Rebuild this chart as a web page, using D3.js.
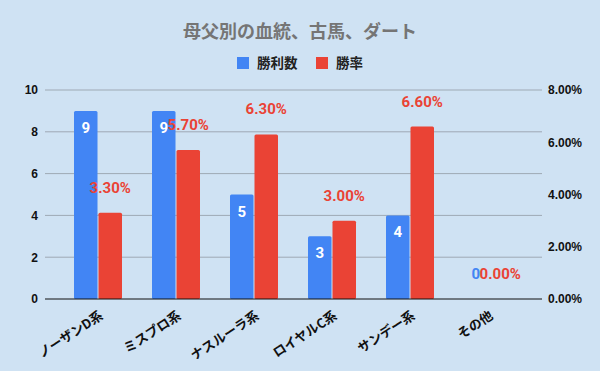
<!DOCTYPE html>
<html>
<head>
<meta charset="utf-8">
<script src="https://cdn.jsdelivr.net/npm/d3@7"></script>
<style>
  body { margin: 0; background: #cfe2f3; }
  svg { display: block; font-family: Roboto, Arial, "Noto Sans CJK JP", sans-serif; }
</style>
</head>
<body>
<svg width="600" height="371"></svg>
<script>
var categories = ['ノーザンD系', 'ミスプロ系', 'ナスルーラ系', 'ロイヤルC系', 'サンデー系', 'その他'];
var wins = [9, 9, 5, 3, 4, 0];
var winRate = [3.30, 5.70, 6.30, 3.00, 6.60, 0.00];
var leftTicks = [0, 2, 4, 6, 8, 10];
var rightTicks = [0, 2, 4, 6, 8];
var seriesNames = ['勝利数', '勝率'];

var svg = d3.select('svg');
var width = 600, height = 371;
var blue = '#4285f4', red = '#ea4335';
var jp = '"Noto Sans CJK JP", sans-serif';

svg.append('rect').attr('width', width).attr('height', height).attr('fill', '#cfe2f3');

// plot area (don't name it "top", that's window.top)
var plotLeft = 45, plotRight = 542, plotTop = 90, plotBottom = 299;

var x = d3.scaleBand().domain(categories).range([59, 527]);
var inner = d3.scaleBand().domain([0, 1]).range([x.bandwidth() / 2 - 24, x.bandwidth() / 2 + 24]).paddingInner(0.04);
var yL = d3.scaleLinear().domain([0, 10]).range([plotBottom, plotTop]);
var yR = d3.scaleLinear().domain([0, 8]).range([plotBottom, plotTop]);

// gridlines
svg.append('g').selectAll('line').data(leftTicks.slice(1)).enter().append('line')
  .attr('x1', plotLeft).attr('x2', plotRight)
  .attr('y1', function(d) { return yL(d); }).attr('y2', function(d) { return yL(d); })
  .attr('stroke', '#9ea9b4').attr('stroke-width', 1);

// left axis
var yAxisL = d3.axisLeft(yL).tickValues(leftTicks).tickSize(0).tickPadding(0);
var gl = svg.append('g').attr('transform', 'translate(38,0)').call(yAxisL);
gl.select('.domain').remove();
gl.selectAll('text').attr('font-size', 12).attr('font-weight', 'bold').attr('fill', '#111');

// right axis
var yAxisR = d3.axisRight(yR).tickValues(rightTicks).tickSize(0).tickPadding(0)
  .tickFormat(function(d) { return d.toFixed(2) + '%'; });
var gr = svg.append('g').attr('transform', 'translate(548,0)').call(yAxisR);
gr.select('.domain').remove();
gr.selectAll('text').attr('font-size', 12).attr('font-weight', 'bold').attr('fill', '#111');

// bars
var groups = svg.append('g').selectAll('g').data(categories).enter().append('g')
  .attr('transform', function(d) { return 'translate(' + x(d) + ',0)'; });

groups.append('rect')
  .attr('x', inner(0)).attr('width', inner.bandwidth())
  .attr('y', function(d, i) { return yL(wins[i]); })
  .attr('height', function(d, i) { return plotBottom - yL(wins[i]); })
  .attr('rx', 1.5)
  .attr('fill', blue);

groups.append('rect')
  .attr('x', inner(1)).attr('width', inner.bandwidth())
  .attr('y', function(d, i) { return yR(winRate[i]); })
  .attr('height', function(d, i) { return plotBottom - yR(winRate[i]); })
  .attr('rx', 1.5)
  .attr('fill', red);

// zero line
svg.append('line').attr('x1', plotLeft).attr('x2', plotRight).attr('y1', plotBottom).attr('y2', plotBottom)
  .attr('stroke', '#111').attr('stroke-width', 1);

// value labels
groups.append('text')
  .attr('x', inner(0) + inner.bandwidth() / 2)
  .attr('y', function(d, i) { return wins[i] > 0 ? yL(wins[i]) + 22 : plotBottom - 20; })
  .attr('text-anchor', 'middle')
  .attr('font-size', 15).attr('font-weight', 'bold')
  .attr('fill', function(d, i) { return wins[i] > 0 ? '#fff' : blue; })
  .text(function(d, i) { return wins[i]; });

groups.append('text')
  .attr('x', inner(1) + inner.bandwidth() / 2)
  .attr('y', function(d, i) { return yR(winRate[i]) - 20; })
  .attr('text-anchor', 'middle')
  .attr('font-size', 15).attr('font-weight', 'bold')
  .attr('fill', red)
  .text(function(d, i) { return winRate[i].toFixed(2) + '%'; });

// category labels
groups.append('text')
  .attr('transform', 'translate(' + (x.bandwidth() / 2 + 6) + ',318) rotate(-33)')
  .attr('text-anchor', 'end')
  .attr('font-family', jp)
  .attr('font-size', 13).attr('font-weight', 'bold')
  .attr('fill', '#111')
  .text(function(d) { return d; });

// title
svg.append('text')
  .attr('x', 300).attr('y', 38)
  .attr('text-anchor', 'middle')
  .attr('font-family', jp)
  .attr('font-size', 18).attr('font-weight', 'bold')
  .attr('fill', '#757575')
  .text('母父別の血統、古馬、ダート');

// legend
var legendItems = [
  { name: seriesNames[0], color: blue, x: 237 },
  { name: seriesNames[1], color: red, x: 316 }
];
var lg = svg.append('g').selectAll('g').data(legendItems).enter().append('g')
  .attr('transform', function(d) { return 'translate(' + d.x + ',57)'; });
lg.append('rect').attr('width', 12).attr('height', 12).attr('fill', function(d) { return d.color; });
lg.append('text').attr('x', 20).attr('y', 11)
  .attr('font-family', jp).attr('font-size', 13.5).attr('font-weight', 'bold').attr('fill', '#222')
  .text(function(d) { return d.name; });
</script>
</body>
</html>
